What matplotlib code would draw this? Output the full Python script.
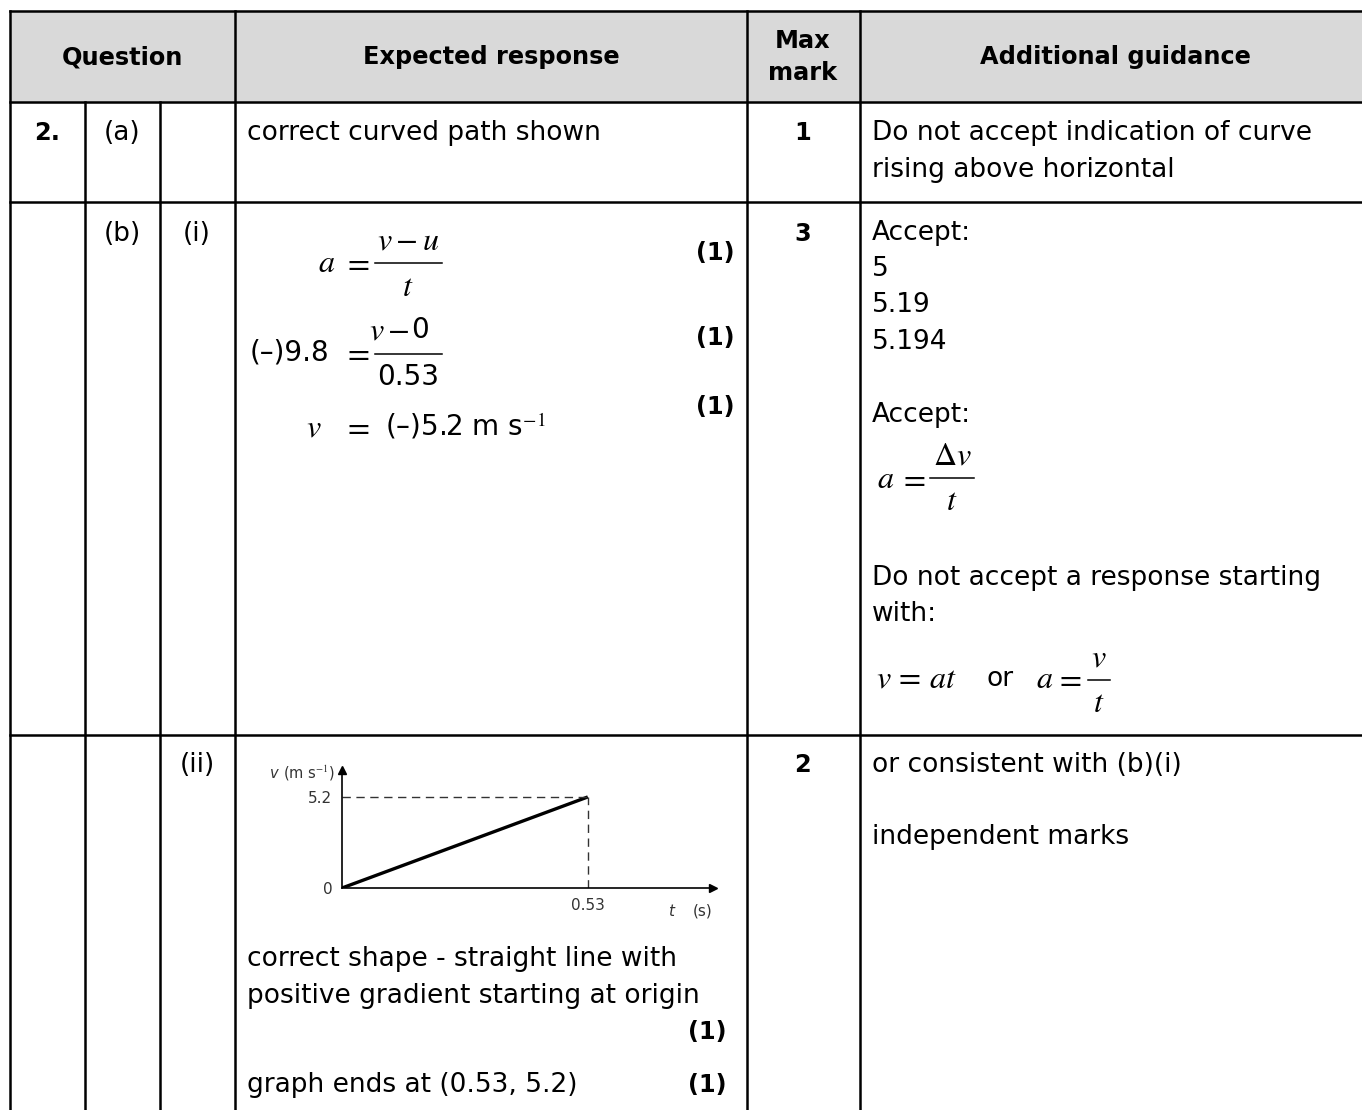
import matplotlib
matplotlib.use("Agg")
import matplotlib.pyplot as plt

# --- table content ---
headers = ["Question", "Expected response", "Max\nmark", "Additional guidance"]
col_edges = [10, 85, 160, 235, 747, 860, 1362]
row_edges = [11, 102, 202, 735, 1110]
marks = ["1", "3", "2"]

# graph data (b)(ii)
t_vals = [0, 0.53]
v_vals = [0, 5.2]

W, H = 1362, 1110
fig = plt.figure(figsize=(W / 100, H / 100), dpi=100)
ax = fig.add_axes([0, 0, 1, 1])
ax.set_xlim(0, W)
ax.set_ylim(H, 0)
ax.axis("off")

FONT = "DejaVu Sans"
FS = 19
FSB = 17.3
MS = 23
plt.rcParams["mathtext.fontset"] = "stix"

# header background
ax.fill_between([col_edges[0], W], row_edges[0], row_edges[1], color="#d9d9d9", zorder=0)

lw = 1.8
# horizontal lines
for y in row_edges[:4]:
    ax.plot([col_edges[0], W], [y, y], color="black", lw=lw)
# vertical lines
ax.plot([10, 10], [11, H], color="black", lw=lw)
for x in col_edges[1:3]:
    ax.plot([x, x], [102, H], color="black", lw=lw)
for x in col_edges[3:6]:
    ax.plot([x, x], [11, H], color="black", lw=lw)


def txt(x, y, s, ha="left", bold=False, size=None, **kw):
    if size is None:
        size = FSB if bold else FS
    ax.text(x, y, s, ha=ha, va="center", fontsize=size, family=FONT,
            fontweight="bold" if bold else "normal", **kw)


def math(x, y, s, ha="left", size=MS, **kw):
    ax.text(x, y, s, ha=ha, va="center", fontsize=size, **kw)


def frac(xc, y, num, den, width, size=MS):
    ax.plot([xc - width / 2, xc + width / 2], [y, y], color="black", lw=1.1)
    ax.text(xc, y - 22, num, ha="center", va="center", fontsize=size)
    ax.text(xc, y + 24, den, ha="center", va="center", fontsize=size)


# header text
txt(122, 57, headers[0], ha="center", bold=True)
txt(491, 57, headers[1], ha="center", bold=True)
txt(803, 57, headers[2], ha="center", bold=True, linespacing=1.45)
txt(1115, 57, headers[3], ha="center", bold=True)

# row 2(a)
txt(47, 133, "2.", ha="center", bold=True)
txt(122, 133, "(a)", ha="center")
txt(247, 133, "correct curved path shown")
txt(803, 133, marks[0], ha="center", bold=True)
txt(872, 133, "Do not accept indication of curve")
txt(872, 170, "rising above horizontal")

# row (b)(i)
txt(122, 234, "(b)", ha="center")
txt(197, 234, "(i)", ha="center")
txt(803, 234, marks[1], ha="center", bold=True)

math(318, 263, r"$a$")
math(370, 263, r"$=$", ha="right")
frac(408, 263, r"$v-u$", r"$t$", 67)
txt(735, 253, "(1)", ha="right", bold=True)

ax.text(250, 353, "(\u2013)9.8", ha="left", va="center", fontsize=20, family=FONT)
math(370, 354, r"$=$", ha="right")
ax.plot([375, 442], [354, 354], color="black", lw=1.1)
ax.text(410, 331, r"$v-$", ha="right", va="center", fontsize=MS)
ax.text(411, 330, "0", ha="left", va="center", fontsize=20, family=FONT)
ax.text(408, 377, "0.53", ha="center", va="center", fontsize=20, family=FONT)
txt(735, 338, "(1)", ha="right", bold=True)

math(306, 428, r"$v$", ha="left")
math(370, 428, r"$=$", ha="right")
ax.text(385, 426, "(\u2013)5.2 m s$^{\u22121}$", ha="left", va="center",
        fontsize=20, family=FONT)
txt(735, 407, "(1)", ha="right", bold=True)

for y, s in zip([233, 269, 305, 342, 415], ["Accept:", "5", "5.19", "5.194", "Accept:"]):
    txt(872, y, s)
math(877, 479, r"$a$")
math(926, 479, r"$=$", ha="right")
frac(952, 478, r"$\Delta v$", r"$t$", 44)
txt(872, 578, "Do not accept a response starting")
txt(872, 614, "with:")
math(876, 679, r"$v\,=\,at$")
txt(987, 679, "or")
math(1036, 679, r"$a$")
math(1082, 679, r"$=$", ha="right")
frac(1099, 680, r"$v$", r"$t$", 22)

# row (ii)
txt(197, 765, "(ii)", ha="center")
txt(803, 765, marks[2], ha="center", bold=True)
txt(872, 765, "or consistent with (b)(i)")
txt(872, 837, "independent marks")

txt(247, 959, "correct shape - straight line with")
txt(247, 996, "positive gradient starting at origin")
txt(727, 1032, "(1)", ha="right", bold=True)
txt(247, 1085, "graph ends at (0.53, 5.2)")
txt(727, 1085, "(1)", ha="right", bold=True)

# inset graph
x0, x1, y0, y1 = 342, 713, 888, 770
gax = fig.add_axes([x0 / W, 1 - y0 / H, (x1 - x0) / W, (y0 - y1) / H])
gax.set_xlim(0, 0.80)
gax.set_ylim(0, 6.74)
gax.patch.set_alpha(0)
for s in ["top", "right"]:
    gax.spines[s].set_visible(False)
for s in ["left", "bottom"]:
    gax.spines[s].set_linewidth(1.2)
gax.plot(1, 0, ">k", ms=6, transform=gax.get_yaxis_transform(), clip_on=False)
gax.plot(0, 1, "^k", ms=6, transform=gax.get_xaxis_transform(), clip_on=False)
gax.plot(t_vals, v_vals, color="black", lw=2.4, solid_capstyle="butt")
gax.plot([0, t_vals[1]], [v_vals[1], v_vals[1]], color="#333333", lw=1.0, dashes=(6, 4))
gax.plot([t_vals[1], t_vals[1]], [0, v_vals[1]], color="#333333", lw=1.0, dashes=(6, 4))
gax.set_xticks([t_vals[1]])
gax.set_xticklabels(["0.53"], family=FONT, fontsize=11, color="#333333")
gax.set_yticks([0, v_vals[1]])
gax.set_yticklabels(["0", "5.2"], family=FONT, fontsize=11, color="#333333")
gax.tick_params(axis="x", length=0, pad=7)
gax.tick_params(axis="y", length=0, pad=7)
ax.text(335, 773, "(m s$^{-1}$)", ha="right", va="center", fontsize=10.5,
        family=FONT, color="#333333")
ax.text(270, 773, "v", ha="left", va="center", fontsize=10.5,
        family=FONT, color="#333333", style="italic")
ax.text(713, 911, "(s)", ha="right", va="center", fontsize=11, family=FONT, color="#333333")
ax.text(668, 911, "t", ha="left", va="center", fontsize=11, family=FONT,
        color="#333333", style="italic")

fig.savefig("out.png", dpi=100)
